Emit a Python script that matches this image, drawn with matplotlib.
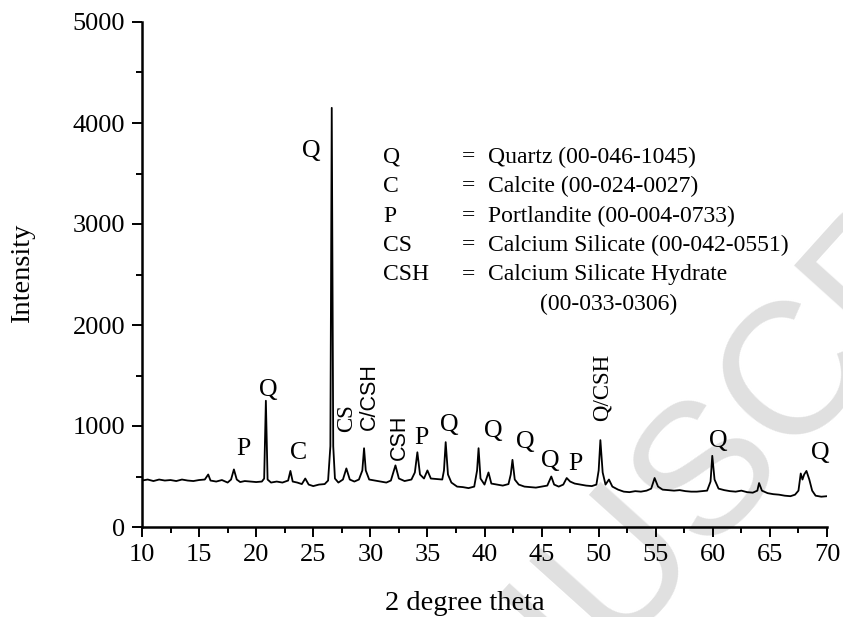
import numpy as np
import matplotlib
matplotlib.use("Agg")
import matplotlib.pyplot as plt
from matplotlib.ticker import MultipleLocator

# XRD trace (2 theta, intensity)
two_theta = [
    10.0, 10.5, 11.0, 11.5, 12.0, 12.5, 13.0, 13.5, 14.0, 14.5, 15.0, 15.5,
    15.8, 16.0, 16.5, 17.0, 17.5, 17.8, 18.05, 18.3, 18.6, 19.0, 19.5, 20.0,
    20.5, 20.7, 20.85, 21.0, 21.3, 21.8, 22.3, 22.8, 23.0, 23.2, 23.6, 24.0,
    24.3, 24.6, 25.0, 25.5, 26.0, 26.3, 26.5, 26.62, 26.75, 26.9, 27.2, 27.6,
    27.9, 28.2, 28.6, 29.0, 29.3, 29.45, 29.6, 29.9, 30.4, 30.9, 31.4, 31.8,
    32.2, 32.5, 33.0, 33.6, 33.9, 34.12, 34.35, 34.7, 35.0, 35.3, 35.8, 36.3,
    36.45, 36.6, 36.8, 37.1, 37.6, 38.1, 38.6, 39.1, 39.35, 39.48, 39.65, 40.0,
    40.35, 40.6, 41.1, 41.6, 42.1, 42.3, 42.45, 42.65, 43.0, 43.5, 44.0, 44.5,
    45.0, 45.5, 45.85, 46.1, 46.5, 46.9, 47.2, 47.5, 47.9, 48.4, 48.9, 49.4,
    49.8, 50.0, 50.15, 50.35, 50.6, 50.9, 51.2, 51.7, 52.2, 52.7, 53.2, 53.7,
    54.2, 54.6, 54.9, 55.2, 55.6, 56.1, 56.6, 57.1, 57.6, 58.1, 58.6, 59.1,
    59.5, 59.8, 59.95, 60.15, 60.5, 61.0, 61.5, 62.0, 62.5, 63.0, 63.5, 63.9,
    64.05, 64.3, 64.8, 65.3, 65.8, 66.3, 66.8, 67.2, 67.5, 67.7, 67.85, 68.0,
    68.2, 68.45, 68.7, 69.0, 69.5, 70.0,
]
intensity = [
    460, 470, 455, 470, 460, 465, 455, 470, 460, 455, 465, 470,
    520, 460, 450, 465, 440, 470, 570, 470, 445, 455, 450, 445,
    450, 480, 1250, 470, 440, 450, 440, 460, 555, 450, 440, 425,
    480, 420, 405, 420, 425, 460, 800, 4150, 800, 480, 440, 470,
    580, 470, 450, 470, 560, 780, 560, 470, 460, 450, 440, 460,
    610, 480, 455, 470, 540, 740, 520, 480, 560, 480, 475, 470,
    560, 840, 520, 440, 400, 395, 385, 400, 560, 780, 480, 420,
    540, 430, 420, 410, 425, 520, 665, 470, 420, 400, 395, 390,
    400, 410, 500, 420, 400, 420, 485, 450, 430, 420, 410, 405,
    420, 560, 860, 540, 420, 470, 400, 370, 350, 345, 355, 350,
    360, 380, 485, 400, 370, 365, 360, 365, 355, 350, 350, 355,
    360, 450, 705, 470, 380, 365, 355, 350, 360, 345, 340, 360,
    435, 360, 335, 325, 320, 310, 305, 320, 360, 530, 470, 520,
    555, 470, 360, 310, 300, 305,
]

# peak labels: text, 2theta, intensity, rotated?, sans?
peak_text = ["P", "Q", "C", "Q", "CS", "C/CSH", "CSH", "P", "Q", "Q", "Q", "Q",
             "P", "Q/CSH", "Q", "Q"]
peak_x = [18.85, 21.05, 23.75, 24.85, 27.95, 29.95, 32.5, 34.45, 36.95, 40.75,
          43.6, 45.75, 47.95, 50.3, 60.45, 69.45]
peak_y = [770, 1360, 730, 3720, 1080, 1290, 890, 880, 1010, 950, 840, 650, 620,
          1380, 850, 735]
peak_rot = [0, 0, 0, 0, 90, 90, 90, 0, 0, 0, 0, 0, 0, 90, 0, 0]
peak_sans = [0, 0, 0, 0, 0, 1, 1, 0, 0, 0, 0, 0, 0, 0, 0, 0]

key_abbr = ["Q", "C", "P", "CS", "CSH"]
key_desc = ["Quartz (00-046-1045)", "Calcite (00-024-0027)",
            "Portlandite (00-004-0733)", "Calcium Silicate (00-042-0551)",
            "Calcium Silicate Hydrate"]

SERIF = "Liberation Serif"
SANS = "Liberation Sans"
W, H = 843, 617

plt.rcParams["font.family"] = SERIF
fig = plt.figure(figsize=(W / 100, H / 100), dpi=100)
ax = fig.add_axes([142 / W, 1 - 527 / H, (827 - 142) / W, (527 - 22) / H])
ax.patch.set_alpha(0)

# faint watermark behind everything
fig.text(357 / W, 1 - 873 / H, "ACCEPTED MANUSCRIPT", family=SANS, fontsize=135,
         color="#e0e0e0", rotation=48, rotation_mode="anchor",
         ha="center", va="center", zorder=-5)

ax.plot(two_theta, intensity, color="black", lw=1.3)

ax.set_xlim(10, 70)
ax.set_ylim(0, 5000)
ax.xaxis.set_major_locator(MultipleLocator(5))
ax.xaxis.set_minor_locator(MultipleLocator(2.5))
ax.yaxis.set_major_locator(MultipleLocator(1000))
ax.yaxis.set_minor_locator(MultipleLocator(500))
for s in ["top", "right"]:
    ax.spines[s].set_visible(False)
for s in ["left", "bottom"]:
    ax.spines[s].set_linewidth(1.8)
ax.tick_params(which="major", length=7.2, width=1.4, labelsize=19, pad=5)
ax.tick_params(which="minor", length=4.3, width=1.4)

fig.text(23 / W, 1 - 273 / H, "Intensity", rotation=90, fontsize=20.5,
         ha="center", va="center")
fig.text(465 / W, 1 - 603 / H, "2 degree theta", fontsize=20.5,
         ha="center", va="center")

for t, x, y, r, s in zip(peak_text, peak_x, peak_y, peak_rot, peak_sans):
    if r:
        ax.text(x, y, t, rotation=90, ha="center", va="center",
                family=SANS if s else SERIF, fontsize=15.5 if s else 16.5)
    else:
        ax.text(x, y, t, ha="center", va="center", fontsize=18.5)

row_y = [157, 186, 216, 245, 275]
for a, d, ry in zip(key_abbr, key_desc, row_y):
    fig.text(383 / W, 1 - ry / H, a, fontsize=17, va="center", ha="left")
    fig.text(462 / W, 1 - ry / H, "=", fontsize=17, va="center", ha="left")
    fig.text(488 / W, 1 - ry / H, d, fontsize=17, va="center", ha="left")
fig.text(540 / W, 1 - 304 / H, "(00-033-0306)", fontsize=17, va="center",
         ha="left")

fig.savefig("out.png", dpi=100)
